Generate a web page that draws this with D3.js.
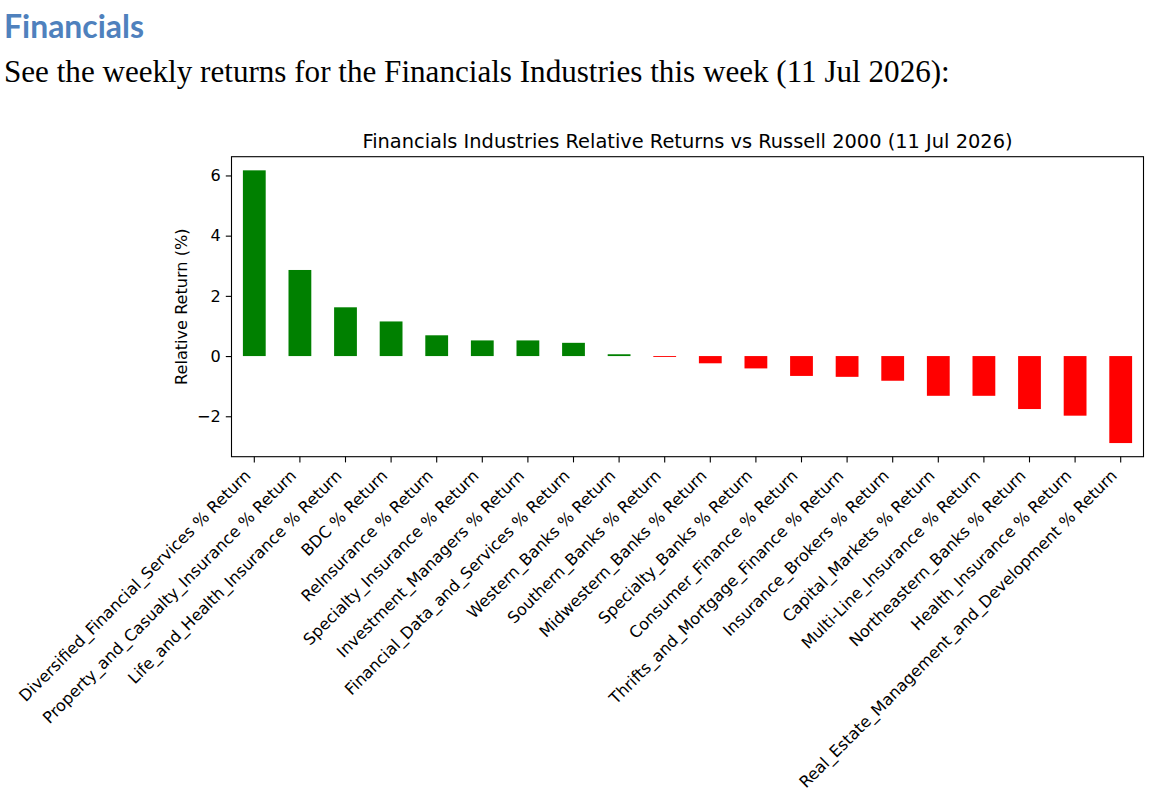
<!DOCTYPE html>
<html>
<head>
<meta charset="utf-8">
<script src="https://cdn.jsdelivr.net/npm/d3@7"></script>
<style>
  body { margin: 0; background: #fff; }
</style>
</head>
<body>
<div id="chart"></div>
<script>
// industries, in the order they are drawn
let industries = [
	"Diversified_Financial_Services % Return",
	"Property_and_Casualty_Insurance % Return",
	"Life_and_Health_Insurance % Return",
	"BDC % Return",
	"ReInsurance % Return",
	"Specialty_Insurance % Return",
	"Investment_Managers % Return",
	"Financial_Data_and_Services % Return",
	"Western_Banks % Return",
	"Southern_Banks % Return",
	"Midwestern_Banks % Return",
	"Specialty_Banks % Return",
	"Consumer_Finance % Return",
	"Thrifts_and_Mortgage_Finance % Return",
	"Insurance_Brokers % Return",
	"Capital_Markets % Return",
	"Multi-Line_Insurance % Return",
	"Northeastern_Banks % Return",
	"Health_Insurance % Return",
	"Real_Estate_Management_and_Development % Return"
]
// relative return vs Russell 2000, in %
let relReturns = [6.17, 2.86, 1.62, 1.15, 0.69, 0.52, 0.52, 0.44, 0.06, -0.03,
	-0.24, -0.41, -0.66, -0.69, -0.82, -1.32, -1.32, -1.76, -1.98, -2.89]
let yTicks = [-2, 0, 2, 4, 6]

let heading = "Financials"
let intro = "See the weekly returns for the Financials Industries this week (11 Jul 2026):"
let chartTitle = "Financials Industries Relative Returns vs Russell 2000 (11 Jul 2026)"
let yLabel = "Relative Return (%)"

let width = 1160, height = 810
let margin = {top: 156.7, right: 16.5, bottom: 353.3, left: 231.5}

let svg = d3.select("#chart").append("svg")
	.attr("width", width)
	.attr("height", height)
	.style("display", "block")

svg.append("rect").attr("width", width).attr("height", height).attr("fill", "#fff")

// grow/shrink a text until it spans the width we want
function fitText(sel, target) {
	let w = sel.node().getComputedTextLength()
	let fs = parseFloat(sel.attr("font-size"))
	sel.attr("font-size", fs * target / w)
}

let h1 = svg.append("text")
	.attr("x", 4).attr("y", 38.3)
	.attr("font-family", "Lato, 'Open Sans', sans-serif")
	.attr("font-weight", "bold")
	.attr("font-size", 30)
	.attr("fill", "#4f81bd")
	.text(heading)
fitText(h1, 140)

let p = svg.append("text")
	.attr("x", 4).attr("y", 81.7)
	.attr("font-family", "'Liberation Serif', serif")
	.attr("font-size", 27)
	.attr("fill", "#000")
	.text(intro)
fitText(p, 946)

let x = d3.scaleBand()
	.domain(industries)
	.range([margin.left, width - margin.right])
	.paddingInner(0.5)
	.paddingOuter(0.25)

// matplotlib style 5% margin on the data range
let lo = d3.min(relReturns), hi = d3.max(relReturns)
let pad = (hi - lo) * 0.05
let y = d3.scaleLinear()
	.domain([lo - pad, hi + pad])
	.range([height - margin.bottom, margin.top])

let font = "'DejaVu Sans', sans-serif"
let fs = 16.1
let tick = 5.7

svg.append("g")
	.selectAll("rect")
	.data(relReturns)
	.enter()
	.append("rect")
	.attr("x", function(d, i){ return x(industries[i]) })
	.attr("width", x.bandwidth())
	.attr("y", function(d){ return y(Math.max(0, d)) })
	.attr("height", function(d){ return Math.abs(y(d) - y(0)) })
	.attr("fill", function(d){ return d >= 0 ? "#008000" : "#ff0000" })

// y axis
let yAxis = svg.append("g")
	.attr("transform", "translate(" + margin.left + ",0)")
	.call(d3.axisLeft(y).tickValues(yTicks).tickSize(tick).tickPadding(5))
yAxis.select(".domain").remove()
yAxis.selectAll("line").attr("stroke", "#000").attr("stroke-width", 1.1)
yAxis.selectAll("text")
	.attr("font-family", font).attr("font-size", fs).attr("fill", "#000")
	.text(function(d){ return d < 0 ? "\u2212" + Math.abs(d) : d })

// x axis
let xAxis = svg.append("g")
	.attr("transform", "translate(0," + (height - margin.bottom) + ")")
	.call(d3.axisBottom(x).tickSize(tick).tickSizeOuter(0))
xAxis.select(".domain").remove()
xAxis.selectAll("line").attr("stroke", "#000").attr("stroke-width", 1.1)
// rotated labels, right/top aligned at the tick like rot=45 in pandas
xAxis.selectAll("text")
	.attr("font-family", font).attr("font-size", fs).attr("fill", "#000")
	.attr("dy", null)
	.attr("y", 0)
	.attr("text-anchor", "end")
	.attr("transform", "translate(-2.7,20) rotate(-45)")

// frame
svg.append("rect")
	.attr("x", margin.left).attr("y", margin.top)
	.attr("width", width - margin.left - margin.right)
	.attr("height", height - margin.top - margin.bottom)
	.attr("fill", "none")
	.attr("stroke", "#000")
	.attr("stroke-width", 1.1)

let t = svg.append("text")
	.attr("x", (margin.left + width - margin.right) / 2)
	.attr("y", 147.5)
	.attr("text-anchor", "middle")
	.attr("font-family", font).attr("font-size", 19.3)
	.text(chartTitle)
fitText(t, 650)

svg.append("text")
	.attr("transform", "translate(186.5," + (margin.top + (height - margin.top - margin.bottom) / 2) + ") rotate(-90)")
	.attr("text-anchor", "middle")
	.attr("font-family", font).attr("font-size", fs)
	.text(yLabel)
</script>
</body>
</html>
